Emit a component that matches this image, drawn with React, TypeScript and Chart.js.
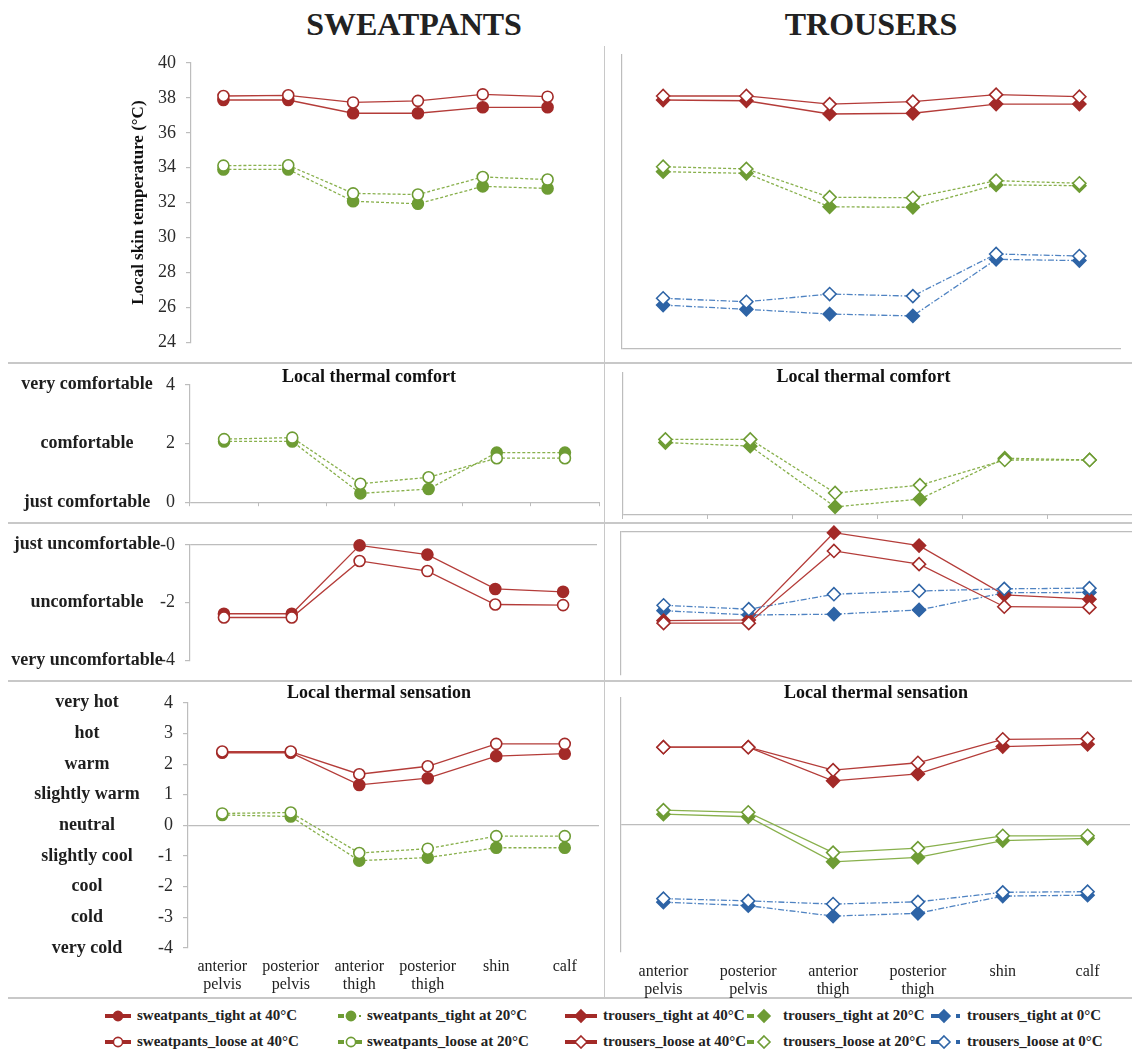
import React, { useEffect, useRef } from "react";
import { Chart, registerables } from "chart.js";

Chart.register(...registerables);

const SERIF = "'Liberation Serif', 'Times New Roman', Times, serif";
const AXIS = "#BDBDBD";

// ---------- categories & tick labels ----------
const CATEGORIES = [["anterior", "pelvis"], ["posterior", "pelvis"], ["anterior", "thigh"], ["posterior", "thigh"], "shin", "calf"];

const TEMP_TICKS = [24, 26, 28, 30, 32, 34, 36, 38, 40];
const COMFORT_TICKS = [0, 2, 4];
const COMFORT_WORDS = ["just comfortable", "comfortable", "very comfortable"];
const DISCOMFORT_TICKS = [-4, -2, 0];
const DISCOMFORT_LABELS = ["-4", "-2", "-0"];
const DISCOMFORT_WORDS = ["very uncomfortable", "uncomfortable", "just uncomfortable"];
const SENSATION_TICKS = [-4, -3, -2, -1, 0, 1, 2, 3, 4];
const SENSATION_WORDS = ["very cold", "cold", "cool", "slightly cool", "neutral", "slightly warm", "warm", "hot", "very hot"];

// ---------- local skin temperature (°C) ----------
const swTight40Temp = [37.88, 37.88, 37.12, 37.12, 37.46, 37.46];
const swLoose40Temp = [38.11, 38.15, 37.74, 37.83, 38.2, 38.07];
const swTight20Temp = [33.9, 33.9, 32.08, 31.93, 32.93, 32.81];
const swLoose20Temp = [34.12, 34.14, 32.53, 32.46, 33.47, 33.32];
const trTight40Temp = [37.55, 37.51, 36.79, 36.83, 37.33, 37.33];
const trLoose40Temp = [37.77, 37.77, 37.33, 37.46, 37.84, 37.73];
const trTight20Temp = [33.65, 33.56, 31.74, 31.71, 32.93, 32.89];
const trLoose20Temp = [33.92, 33.8, 32.26, 32.23, 33.16, 33.02];
const trTight0Temp = [26.39, 26.16, 25.9, 25.8, 28.88, 28.81];
const trLoose0Temp = [26.76, 26.57, 26.99, 26.88, 29.17, 29.06];

// ---------- local thermal comfort (20°C) ----------
const swTight20Comfort = [2.07, 2.07, 0.3, 0.45, 1.69, 1.69];
const swLoose20Comfort = [2.15, 2.2, 0.63, 0.85, 1.5, 1.5];
const trTight20Comfort = [2.04, 1.94, 0.23, 0.45, 1.6, 1.55];
const trLoose20Comfort = [2.13, 2.13, 0.62, 0.84, 1.55, 1.55];

// ---------- local thermal discomfort (40°C, 0°C) ----------
const swTight40Discomfort = [-2.39, -2.39, -0.02, -0.34, -1.53, -1.63];
const swLoose40Discomfort = [-2.52, -2.52, -0.56, -0.91, -2.07, -2.09];
const trTight40Discomfort = [-2.48, -2.46, -0.02, -0.38, -1.76, -1.88];
const trLoose40Discomfort = [-2.55, -2.55, -0.53, -0.9, -2.09, -2.11];
const trTight0Discomfort = [-2.2, -2.32, -2.3, -2.18, -1.7, -1.69];
const trLoose0Discomfort = [-2.05, -2.16, -1.74, -1.65, -1.59, -1.57];

// ---------- local thermal sensation ----------
const swTight40Sens = [2.37, 2.37, 1.32, 1.54, 2.26, 2.34];
const swLoose40Sens = [2.41, 2.41, 1.67, 1.93, 2.66, 2.66];
const swTight20Sens = [0.34, 0.29, -1.15, -1.05, -0.73, -0.73];
const swLoose20Sens = [0.39, 0.42, -0.9, -0.76, -0.35, -0.35];
const trTight40Sens = [2.45, 2.45, 1.39, 1.61, 2.47, 2.54];
const trLoose40Sens = [2.45, 2.45, 1.73, 1.96, 2.7, 2.72];
const trTight20Sens = [0.34, 0.26, -1.16, -1.02, -0.49, -0.42];
const trLoose20Sens = [0.47, 0.4, -0.87, -0.73, -0.34, -0.34];
const trTight0Sens = [-2.43, -2.54, -2.87, -2.78, -2.24, -2.21];
const trLoose0Sens = [-2.32, -2.39, -2.49, -2.42, -2.12, -2.1];

// ---------- legend ----------
const LEGEND_TIGHT = ["sweatpants_tight at 40°C", "sweatpants_tight at 20°C", "trousers_tight at 40°C", "trousers_tight at 20°C", "trousers_tight at 0°C"];
const LEGEND_LOOSE = ["sweatpants_loose at 40°C", "sweatpants_loose at 20°C", "trousers_loose at 40°C", "trousers_loose at 20°C", "trousers_loose at 0°C"];

// ---------- styles ----------
type ColorKey = "red" | "green" | "blue";
type DashKey = "solid" | "dash" | "dashdot";
type Series = { data: number[]; color: ColorKey; filled: boolean; shape: "circle" | "rectRot"; dash: DashKey };

const PAL: Record<ColorKey, { line: string; mark: string }> = {
  red: { line: "#B43C39", mark: "#A32A28" },
  green: { line: "#88B04C", mark: "#6E9C34" },
  blue: { line: "#4F83C2", mark: "#2E64A6" },
};
const DASH: Record<DashKey, number[]> = { solid: [], dash: [3, 2], dashdot: [6, 2, 1.5, 2] };

function toDataset(s: Series) {
  const p = PAL[s.color];
  return {
    data: s.data,
    borderColor: p.line,
    borderWidth: 1.3,
    borderDash: DASH[s.dash],
    pointStyle: s.shape,
    pointRadius: s.shape === "circle" ? 5.5 : 6.5,
    pointBackgroundColor: s.filled ? p.mark : "#ffffff",
    pointBorderColor: p.mark,
    pointBorderWidth: 1.6,
    fill: false,
    tension: 0,
    clip: false as any,
    order: s.filled ? 1 : 0,
  };
}

const sw = (data: number[], color: ColorKey, filled: boolean, dash: DashKey): Series => ({ data, color, filled, shape: "circle", dash });
const tr = (data: number[], color: ColorKey, filled: boolean, dash: DashKey): Series => ({ data, color, filled, shape: "rectRot", dash });

type PanelCfg = {
  x: number; y: number; w: number; h: number;
  area: { left: number; right: number; top: number; bottom: number };
  series: Series[];
  ticks: number[];
  tickLabels?: string[];
  showNums: boolean;
  words?: string[];
  wordX?: number;
  zero: number | null;
  title?: { text: string; x: number; y: number };
  yTitle?: string;
  yTitleCenter?: number;
  xLabels?: boolean;
  xPad?: number;
  xTicks?: boolean;
};

function Panel({ cfg }: { cfg: PanelCfg }) {
  const ref = useRef<HTMLCanvasElement>(null);
  useEffect(() => {
    const a = cfg.area;
    const padTop = a.top - cfg.y;
    const padRight = cfg.x + cfg.w - a.right;
    const xHeight = cfg.xLabels ? cfg.y + cfg.h - a.bottom : 0;
    const padBottom = cfg.xLabels ? 0 : cfg.y + cfg.h - a.bottom;
    let padLeft = 0;
    if (cfg.yTitle && cfg.yTitleCenter != null) padLeft = Math.round(cfg.yTitleCenter - cfg.x - (17 * 1.2) / 2 - 4);
    const yWidth = a.left - cfg.x - padLeft;

    const textPlugin = {
      id: "panelText",
      afterDraw(chart: any) {
        const ctx = chart.ctx;
        ctx.save();
        if (cfg.words) {
          ctx.font = `bold 18px ${SERIF}`;
          ctx.fillStyle = "#1e1e1e";
          ctx.textAlign = "center";
          ctx.textBaseline = "middle";
          cfg.words.forEach((w, i) => {
            ctx.fillText(w, (cfg.wordX ?? 87) - cfg.x, chart.scales.y.getPixelForValue(cfg.ticks[i]));
          });
        }
        if (cfg.title) {
          ctx.font = `bold 18px ${SERIF}`;
          ctx.fillStyle = "#111";
          ctx.textAlign = "center";
          ctx.textBaseline = "middle";
          ctx.fillText(cfg.title.text, cfg.title.x - cfg.x, cfg.title.y - cfg.y);
        }
        ctx.restore();
      },
    };

    const chart = new Chart(ref.current as HTMLCanvasElement, {
      type: "line",
      data: { labels: CATEGORIES as any, datasets: cfg.series.map(toDataset) as any },
      options: {
        animation: false,
        responsive: false,
        maintainAspectRatio: false,
        events: [],
        layout: { padding: { left: padLeft, right: padRight, top: padTop, bottom: padBottom }, autoPadding: false },
        plugins: { legend: { display: false }, tooltip: { enabled: false }, title: { display: false } },
        scales: {
          x: {
            type: "category",
            offset: true,
            afterFit: (s: any) => { s.height = xHeight; },
            border: { display: false },
            grid: { display: !!cfg.xTicks, drawOnChartArea: false, drawTicks: !!cfg.xTicks, tickLength: 4, tickColor: AXIS, offset: true },
            ticks: {
              display: !!cfg.xLabels,
              padding: cfg.xPad ?? 0,
              color: "#222",
              font: { family: SERIF, size: 16, lineHeight: 1.1 },
              maxRotation: 0,
              minRotation: 0,
              autoSkip: false,
            },
          },
          y: {
            type: "linear",
            min: cfg.ticks[0],
            max: cfg.ticks[cfg.ticks.length - 1],
            afterBuildTicks: (s: any) => { s.ticks = cfg.ticks.map((v) => ({ value: v })); },
            afterFit: (s: any) => { s.width = yWidth; },
            border: { display: true, color: AXIS, width: 1.2 },
            grid: {
              display: true,
              drawOnChartArea: true,
              drawTicks: cfg.showNums,
              tickLength: 5,
              tickColor: AXIS,
              lineWidth: 1.2,
              color: (c: any) => (cfg.zero !== null && c.tick && c.tick.value === cfg.zero ? AXIS : "rgba(0,0,0,0)"),
            },
            ticks: {
              display: cfg.showNums,
              padding: 10,
              color: "#2a2a2a",
              font: { family: SERIF, size: 18 },
              callback: (v: any, i: number) => (cfg.tickLabels ? cfg.tickLabels[i] : String(v)),
            },
            title: {
              display: !!cfg.yTitle,
              text: cfg.yTitle || "",
              color: "#111",
              font: { family: SERIF, size: 17, weight: "bold" },
              padding: { top: 4, bottom: 0 },
            },
          },
        },
      } as any,
      plugins: [textPlugin],
    });
    return () => chart.destroy();
  }, [cfg]);
  return (
    <canvas
      ref={ref}
      width={cfg.w}
      height={cfg.h}
      style={{ position: "absolute", left: cfg.x, top: cfg.y, width: cfg.w, height: cfg.h }}
    />
  );
}

const LX = 0, LW = 604, RX = 604, RW = 528;

const PANELS: PanelCfg[] = [
  {
    x: LX, y: 40, w: LW, h: 323,
    area: { left: 191, right: 580, top: 63, bottom: 348 },
    series: [sw(swTight40Temp, "red", true, "solid"), sw(swLoose40Temp, "red", false, "solid"), sw(swTight20Temp, "green", true, "dash"), sw(swLoose20Temp, "green", false, "dash")],
    ticks: TEMP_TICKS, showNums: true, zero: null,
    yTitle: "Local skin temperature (°C)", yTitleCenter: 138.5,
  },
  {
    x: LX, y: 364, w: LW, h: 159,
    area: { left: 190, right: 599, top: 374, bottom: 513 },
    series: [sw(swTight20Comfort, "green", true, "dash"), sw(swLoose20Comfort, "green", false, "dash")],
    ticks: COMFORT_TICKS, showNums: true, words: COMFORT_WORDS, zero: 0, xTicks: true,
    title: { text: "Local thermal comfort", x: 369, y: 377 },
  },
  {
    x: LX, y: 524, w: LW, h: 157,
    area: { left: 190, right: 597, top: 532, bottom: 673 },
    series: [sw(swTight40Discomfort, "red", true, "solid"), sw(swLoose40Discomfort, "red", false, "solid")],
    ticks: DISCOMFORT_TICKS, tickLabels: DISCOMFORT_LABELS, showNums: true, words: DISCOMFORT_WORDS, zero: 0,
  },
  {
    x: LX, y: 682, w: LW, h: 316,
    area: { left: 188, right: 599, top: 698, bottom: 948 },
    series: [sw(swTight40Sens, "red", true, "solid"), sw(swLoose40Sens, "red", false, "solid"), sw(swTight20Sens, "green", true, "dash"), sw(swLoose20Sens, "green", false, "dash")],
    ticks: SENSATION_TICKS, showNums: true, words: SENSATION_WORDS, zero: 0, xLabels: true, xPad: 10,
    title: { text: "Local thermal sensation", x: 379, y: 693 },
  },
  {
    x: RX, y: 40, w: RW, h: 323,
    area: { left: 621.5, right: 1121, top: 55, bottom: 349 },
    series: [
      tr(trTight40Temp, "red", true, "solid"), tr(trLoose40Temp, "red", false, "solid"),
      tr(trTight20Temp, "green", true, "dash"), tr(trLoose20Temp, "green", false, "dash"),
      tr(trTight0Temp, "blue", true, "dashdot"), tr(trLoose0Temp, "blue", false, "dashdot"),
    ],
    ticks: TEMP_TICKS, showNums: false, zero: 24,
  },
  {
    x: RX, y: 364, w: RW, h: 159,
    area: { left: 623, right: 1132, top: 373, bottom: 515 },
    series: [tr(trTight20Comfort, "green", true, "dash"), tr(trLoose20Comfort, "green", false, "dash")],
    ticks: COMFORT_TICKS, showNums: false, zero: 0, xTicks: true,
    title: { text: "Local thermal comfort", x: 863.5, y: 377 },
  },
  {
    x: RX, y: 524, w: RW, h: 157,
    area: { left: 621, right: 1132, top: 532, bottom: 675 },
    series: [
      tr(trTight40Discomfort, "red", true, "solid"), tr(trLoose40Discomfort, "red", false, "solid"),
      tr(trTight0Discomfort, "blue", true, "dashdot"), tr(trLoose0Discomfort, "blue", false, "dashdot"),
    ],
    ticks: DISCOMFORT_TICKS, showNums: false, zero: 0,
  },
  {
    x: RX, y: 682, w: RW, h: 316,
    area: { left: 621, right: 1130, top: 698, bottom: 952 },
    series: [
      tr(trTight40Sens, "red", true, "solid"), tr(trLoose40Sens, "red", false, "solid"),
      tr(trTight20Sens, "green", true, "solid"), tr(trLoose20Sens, "green", false, "solid"),
      tr(trTight0Sens, "blue", true, "dashdot"), tr(trLoose0Sens, "blue", false, "dashdot"),
    ],
    ticks: SENSATION_TICKS, showNums: false, zero: 0, xLabels: true, xPad: 11,
    title: { text: "Local thermal sensation", x: 876, y: 693 },
  },
];

type MarkKind = "swRed" | "swGreen" | "trRed" | "trGreen" | "trBlue";
const LEGEND_KINDS: MarkKind[] = ["swRed", "swGreen", "trRed", "trGreen", "trBlue"];
const LEGEND_MARK_X = [105, 338, 565, 747, 931];
const LEGEND_TEXT_X = [137, 367, 603, 783, 967];
const LEGEND_ROW_Y = [1016, 1042];

function LegendMark({ kind, filled, x, y }: { kind: MarkKind; filled: boolean; x: number; y: number }) {
  const red = PAL.red.mark, green = PAL.green.mark, blue = PAL.blue.mark;
  const H = 16, c = H / 2;
  const diamond = (cx: number, col: string) => (
    <polygon
      points={`${cx},${c - 6} ${cx + 6},${c} ${cx},${c + 6} ${cx - 6},${c}`}
      fill={filled ? col : "#fff"} stroke={col} strokeWidth={1.6}
    />
  );
  let w = 30;
  let body: React.ReactNode = null;
  if (kind === "swRed") {
    w = 27;
    body = (<>
      <line x1={0} y1={c} x2={26} y2={c} stroke={red} strokeWidth={4} />
      <circle cx={13} cy={c} r={4.6} fill={filled ? red : "#fff"} stroke={red} strokeWidth={1.6} />
    </>);
  } else if (kind === "swGreen") {
    w = 26;
    body = (<>
      <line x1={0} y1={c} x2={6} y2={c} stroke={green} strokeWidth={4} />
      {filled ? (
        <>
          <circle cx={13} cy={c} r={4.6} fill={green} stroke={green} strokeWidth={1.6} />
          <line x1={21} y1={c} x2={23} y2={c} stroke={green} strokeWidth={2} />
        </>
      ) : (
        <>
          <circle cx={13} cy={c} r={4.6} fill="#fff" stroke={green} strokeWidth={1.6} />
          <line x1={18} y1={c} x2={24} y2={c} stroke={green} strokeWidth={4} />
        </>
      )}
    </>);
  } else if (kind === "trRed") {
    w = 33;
    body = (<>
      <line x1={0} y1={c} x2={32} y2={c} stroke={red} strokeWidth={4} />
      {diamond(16, red)}
    </>);
  } else if (kind === "trGreen") {
    w = 26;
    body = (<>
      <line x1={0} y1={c} x2={7} y2={c} stroke={green} strokeWidth={4} />
      {diamond(17, green)}
    </>);
  } else {
    w = 30;
    body = (<>
      <line x1={0} y1={c} x2={16} y2={c} stroke={blue} strokeWidth={4} />
      {diamond(13, blue)}
      <line x1={25} y1={c} x2={29} y2={c} stroke={blue} strokeWidth={4} />
    </>);
  }
  return (
    <svg width={w} height={H} style={{ position: "absolute", left: x, top: y - c }}>
      {body}
    </svg>
  );
}

export default function App() {
  const hline = (y: number, x0 = 8) => (
    <div key={`h${y}`} style={{ position: "absolute", left: x0, top: y - 1, width: 1132 - x0, height: 1.5, background: "#C8C8C8" }} />
  );
  return (
    <div style={{ position: "absolute", left: 0, top: 0, width: 1132, height: 1049, background: "#fff", overflow: "hidden", fontFamily: SERIF }}>
      <div style={{ position: "absolute", left: 414, top: 24, transform: "translate(-50%, -50%)", font: `bold 32px ${SERIF}`, color: "#222", whiteSpace: "nowrap" }}>SWEATPANTS</div>
      <div style={{ position: "absolute", left: 871, top: 24, transform: "translate(-50%, -50%)", font: `bold 32px ${SERIF}`, color: "#222", whiteSpace: "nowrap" }}>TROUSERS</div>
      {[363, 523, 681, 998].map((y) => hline(y))}
      <div style={{ position: "absolute", left: 603.5, top: 46, width: 1.5, height: 953, background: "#C8C8C8" }} />
      {PANELS.map((p, i) => (<Panel key={i} cfg={p} />))}
      {[LEGEND_TIGHT, LEGEND_LOOSE].map((row, r) =>
        row.map((label, i) => (
          <React.Fragment key={`${r}-${i}`}>
            <LegendMark kind={LEGEND_KINDS[i]} filled={r === 0} x={LEGEND_MARK_X[i]} y={LEGEND_ROW_Y[r]} />
            <div style={{ position: "absolute", left: LEGEND_TEXT_X[i], top: LEGEND_ROW_Y[r] - 9, height: 18, lineHeight: "18px", font: `bold 15px ${SERIF}`, color: "#222", whiteSpace: "nowrap" }}>{label}</div>
          </React.Fragment>
        ))
      )}
    </div>
  );
}
